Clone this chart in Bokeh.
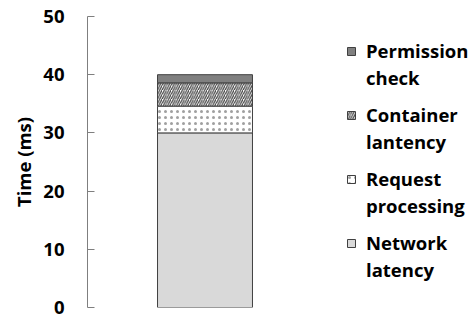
from bokeh.plotting import figure
from bokeh.models import ColumnDataSource, Range1d, Legend, LegendItem, FixedTicker
from bokeh.transform import stack
from bokeh.embed import file_html
from bokeh.resources import INLINE

categories = ["Total"]
network_latency = [30.0]
request_processing = [4.6]
container_latency = [4.0]
permission_check = [1.4]
series_lines = [["Network", "latency"], ["Request", "processing"],
                ["Container", "lantency"], ["Permission", "check"]]
y_ticks = [0, 10, 20, 30, 40, 50]

keys = ["net", "req", "cont", "perm"]
src = ColumnDataSource(dict(
    x=list(range(len(categories))),
    net=network_latency,
    req=request_processing,
    cont=container_latency,
    perm=permission_check,
))

FONT = "Open Sans"
FS = "18.5px"

W, H = 475, 318
FL, FT, FB = 87, 16, 11
FW = W - FL
p = figure(width=W, height=H, output_backend="svg", toolbar_location=None,
           x_range=Range1d(-0.5, -0.5 + FW / 235), y_range=Range1d(0, 50),
           min_border_left=FL, min_border_right=0, min_border_top=FT, min_border_bottom=FB,
           x_axis_location=None)
p.outline_line_color = None
p.grid.visible = False

styles = [
    dict(fill_color="#d9d9d9"),
    dict(fill_color="white", hatch_pattern=".", hatch_color="#a0a0a0", hatch_scale=6, hatch_weight=0.6),
    dict(fill_color="white", hatch_pattern="/", hatch_color="#404040", hatch_scale=4.5, hatch_weight=1.2),
    dict(fill_color="#808080"),
]

renderers = []
for i, k in enumerate(keys):
    kw = dict(x="x", width=0.404, bottom=stack(*keys[:i]) if i > 0 else 0, top=stack(*keys[:i + 1]),
              source=src, line_color="#404040", line_width=1)
    kw.update(styles[i])
    renderers.append(p.vbar(**kw))

# invisible renderer used for the second text line of each legend entry
blank = p.vbar(x=[], top=[], width=0.1, fill_alpha=0, line_alpha=0)

frame_bottom = H - FB
for n, i in enumerate(reversed(range(len(keys)))):
    first, second = series_lines[i]
    items = [LegendItem(label=first, renderers=[renderers[i]]),
             LegendItem(label=second, renderers=[blank])]
    lg = Legend(items=items, location=(346 - FL, frame_bottom - (90 + 64 * n)),
                border_line_color=None, background_fill_alpha=0,
                label_text_font=FONT, label_text_font_style="bold", label_text_font_size=FS,
                label_text_color="black", label_height=20,
                glyph_width=10, glyph_height=10, label_standoff=10, spacing=2, padding=0, margin=0)
    p.add_layout(lg)

ax = p.yaxis[0]
ax.ticker = FixedTicker(ticks=y_ticks)
ax.axis_line_color = "#7f7f7f"
ax.major_tick_line_color = "#7f7f7f"
ax.major_tick_in = 7
ax.major_tick_out = 0
ax.minor_tick_line_color = None
ax.major_label_standoff = 23
ax.major_label_text_font = FONT
ax.major_label_text_font_style = "bold"
ax.major_label_text_font_size = FS
ax.major_label_text_color = "black"
ax.axis_label = "Time (ms)"
ax.axis_label_text_font = FONT
ax.axis_label_text_font_style = "bold"
ax.axis_label_text_font_size = FS
ax.axis_label_text_color = "black"
ax.axis_label_standoff = 4

open("out.html", "w").write(file_html(p, INLINE))
